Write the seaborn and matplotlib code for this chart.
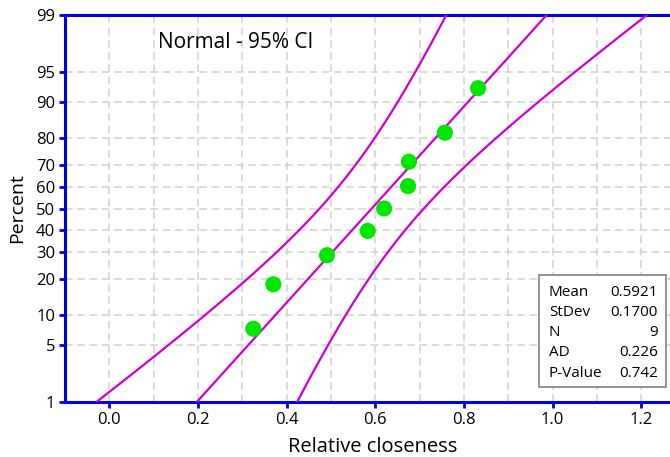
"""
Normal probability plot of relative closeness with 95% CI bands.
Saves out.png (670x457).
"""

from statistics import NormalDist

import numpy as np
import pandas as pd
import matplotlib
matplotlib.use("Agg")
import matplotlib.pyplot as plt
from matplotlib.patches import Rectangle
import seaborn as sns


# ── Data ──────────────────────────────────────────────────────────────────────

closeness = [0.325, 0.370, 0.491, 0.583, 0.620, 0.674, 0.676, 0.757, 0.832]
percent_pos = [7.4, 18.1, 28.7, 39.4, 50.0, 60.6, 71.3, 81.9, 92.6]

y_ticks = [1, 5, 10, 20, 30, 40, 50, 60, 70, 80, 90, 95, 99]
x_ticks = [0.0, 0.2, 0.4, 0.6, 0.8, 1.0, 1.2]

stat_names = ["Mean", "StDev", "N", "AD", "P-Value"]
stat_values = ["0.5921", "0.1700", "9", "0.226", "0.742"]

# ── Style ─────────────────────────────────────────────────────────────────────

COLORS = {
    "axis":   "#0000E6",
    "fit":    "#D000D0",
    "point":  "#00E600",
    "grid":   "#D2D2D2",
    "text":   "#000000",
    "box":    "#8C8C8C",
}

sns.set_theme(style="white")
plt.rcParams["font.family"] = ["Open Sans", "DejaVu Sans"]

W, H = 670, 457
ND = NormalDist()

_inv = np.vectorize(lambda v: ND.inv_cdf(v), otypes=[float])
_cdf = np.vectorize(lambda v: ND.cdf(v), otypes=[float])


def fx(px):
    return px / W


def fy(py):
    return 1 - py / H


def to_z(p):
    p = np.clip(np.asarray(p, dtype=float), 1e-6, 100 - 1e-6)
    return _inv(p / 100.0)


def from_z(z):
    return _cdf(np.asarray(z, dtype=float)) * 100.0


# ── Fit + confidence bands ────────────────────────────────────────────────────

x = np.array(closeness)
n = len(x)
mu = x.mean()
sd = x.std(ddof=1)

z_grid = np.linspace(to_z(1.0), to_z(99.0), 200)
fit_x = mu + z_grid * sd
half = 1.96 * sd * np.sqrt((1 + z_grid ** 2 / 2) / (n - 1))
pct_grid = from_z(z_grid)

lines = pd.concat([
    pd.DataFrame({"x": fit_x, "p": pct_grid, "curve": "fit"}),
    pd.DataFrame({"x": fit_x - half, "p": pct_grid, "curve": "lower"}),
    pd.DataFrame({"x": fit_x + half, "p": pct_grid, "curve": "upper"}),
])
points = pd.DataFrame({"x": closeness, "p": percent_pos})

# ── Plot ──────────────────────────────────────────────────────────────────────

fig = plt.figure(figsize=(W / 100, H / 100), dpi=100)
ax = fig.add_axes([fx(65), fy(402), fx(670) - fx(65), fy(15) - fy(402)])
ax.set_yscale("function", functions=(to_z, from_z))

for name, grp in lines.groupby("curve"):
    sns.lineplot(data=grp, x="x", y="p", ax=ax, color=COLORS["fit"],
                 lw=1.6, sort=False, estimator=None, legend=False, zorder=3)

sns.scatterplot(data=points, x="x", y="p", ax=ax, s=135,
                color=COLORS["point"], edgecolor="none", zorder=4)

ax.set_xlim(-0.1, 1.265)
ax.set_ylim(1, 99)

ax.set_xticks(x_ticks)
ax.set_xticklabels([f"{t:.1f}" for t in x_ticks])
ax.set_xticks(np.arange(-0.1, 1.26, 0.1), minor=True)
ax.set_yticks(y_ticks)
ax.set_yticklabels([str(t) for t in y_ticks])
ax.yaxis.set_minor_locator(matplotlib.ticker.NullLocator())

ax.grid(True, which="both", axis="x", color=COLORS["grid"],
        ls=(0, (5, 3)), lw=1.1, zorder=0)
ax.grid(True, which="major", axis="y", color=COLORS["grid"],
        ls=(0, (5, 3)), lw=1.1, zorder=0)
ax.set_axisbelow(True)

for side in ["left", "bottom", "top"]:
    ax.spines[side].set_visible(True)
    ax.spines[side].set_color(COLORS["axis"])
    ax.spines[side].set_linewidth(2.2)
ax.spines["right"].set_visible(False)

ax.tick_params(axis="both", which="major", direction="out", length=4,
               width=2, color=COLORS["axis"], labelsize=12,
               labelcolor=COLORS["text"], pad=3, left=True, bottom=True)
ax.tick_params(axis="x", which="minor", length=0)

ax.set_xlabel("Relative closeness", fontsize=14.5, color=COLORS["text"])
ax.set_ylabel("Percent", fontsize=14, color=COLORS["text"])
ax.xaxis.set_label_coords(0.508, (402 - 447) / 387)
ax.xaxis.label.set_va("center")
ax.yaxis.set_label_coords((17 - 65) / 605, 0.5)
ax.yaxis.label.set_va("center")

fig.text(fx(158), fy(42), "Normal - 95% CI", fontsize=15,
         color=COLORS["text"], ha="left", va="center")

# Stats box
fig.patches.append(Rectangle((fx(539), fy(387)), fx(666) - fx(539),
                             fy(275) - fy(387), transform=fig.transFigure,
                             facecolor="white", edgecolor=COLORS["box"],
                             lw=1.3, zorder=5))
for i, (name, val) in enumerate(zip(stat_names, stat_values)):
    yy = fy(292 + i * 20.3)
    fig.text(fx(549), yy, name, fontsize=11, color=COLORS["text"],
             ha="left", va="center", zorder=6)
    fig.text(fx(658), yy, val, fontsize=11, color=COLORS["text"],
             ha="right", va="center", zorder=6)

fig.savefig("out.png", dpi=100)
